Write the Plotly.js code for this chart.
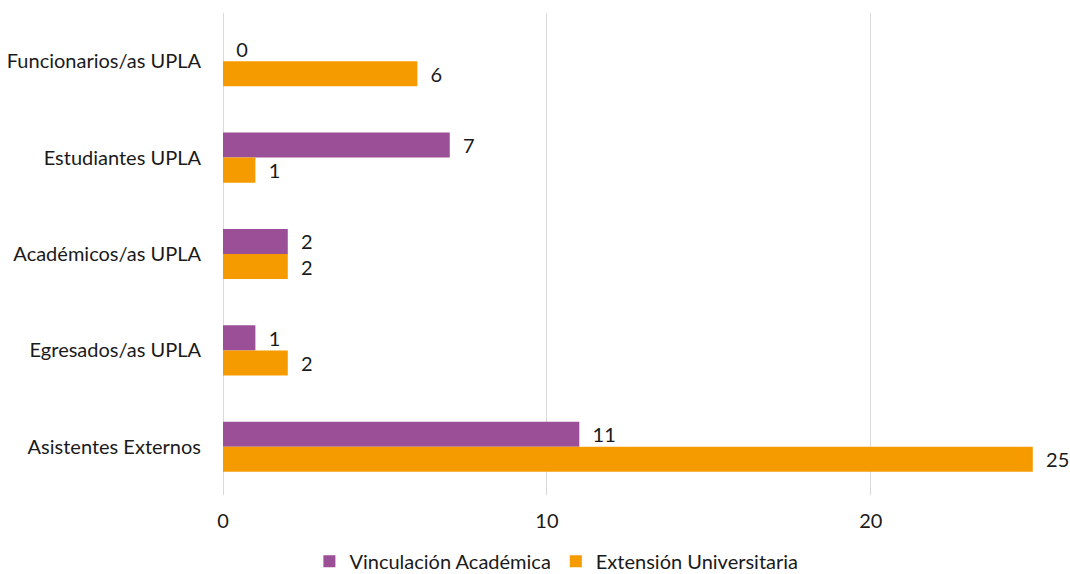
<!DOCTYPE html>
<html>
<head>
<meta charset="utf-8">
<script src="https://cdn.plot.ly/plotly-3.0.1.min.js"></script>
<style>html,body{margin:0;padding:0;background:#fff;}#chart{width:1070px;height:574px;}</style>
</head>
<body>
<div id="chart"></div>
<script>
const categories = ["Funcionarios/as UPLA", "Estudiantes UPLA", "Académicos/as UPLA", "Egresados/as UPLA", "Asistentes Externos"];
const vinculacion = [0, 7, 2, 1, 11];
const extension = [6, 1, 2, 2, 25];
const seriesNames = ["Vinculación Académica", "Extensión Universitaria"];
const xTicks = [0, 10, 20];

const font = {family: "Lato, 'Open Sans', sans-serif", size: 20, color: "#1a1a1a"};

const traces = [
  {type: "bar", orientation: "h", name: seriesNames[0], y: categories, x: vinculacion,
   marker: {color: "#9B4F96"}, texttemplate: "\u00a0\u00a0%{x}", textposition: "outside",
   cliponaxis: false, textfont: font},
  {type: "bar", orientation: "h", name: seriesNames[1], y: categories, x: extension,
   marker: {color: "#F59B00"}, texttemplate: "\u00a0\u00a0%{x}", textposition: "outside",
   cliponaxis: false, textfont: font}
];

const layout = {
  width: 1070, height: 574,
  margin: {l: 223, r: 21, t: 13, b: 79, autoexpand: false},
  paper_bgcolor: "#fff", plot_bgcolor: "#fff",
  font: font,
  barmode: "group", bargap: 0.48, bargroupgap: 0,
  xaxis: {range: [0, 25.5], tickvals: xTicks, showgrid: true, gridcolor: "#d9d9d9", gridwidth: 1,
          zeroline: true, zerolinecolor: "#d9d9d9", zerolinewidth: 1, showline: false,
          ticks: "outside", ticklen: 8, tickcolor: "rgba(0,0,0,0)", tickfont: font, automargin: false},
  yaxis: {autorange: "reversed", showgrid: false, zeroline: false, showline: false, ticks: "outside",
          ticklen: 17, tickcolor: "rgba(0,0,0,0)", tickfont: font, automargin: false},
  legend: {orientation: "h", xref: "container", yref: "container", x: 0.52, xanchor: "center",
           y: 0.022, yanchor: "middle", font: font, traceorder: "normal", itemwidth: 30},
  showlegend: true
};

Plotly.newPlot("chart", traces, layout, {displayModeBar: false, staticPlot: true});
</script>
</body>
</html>
